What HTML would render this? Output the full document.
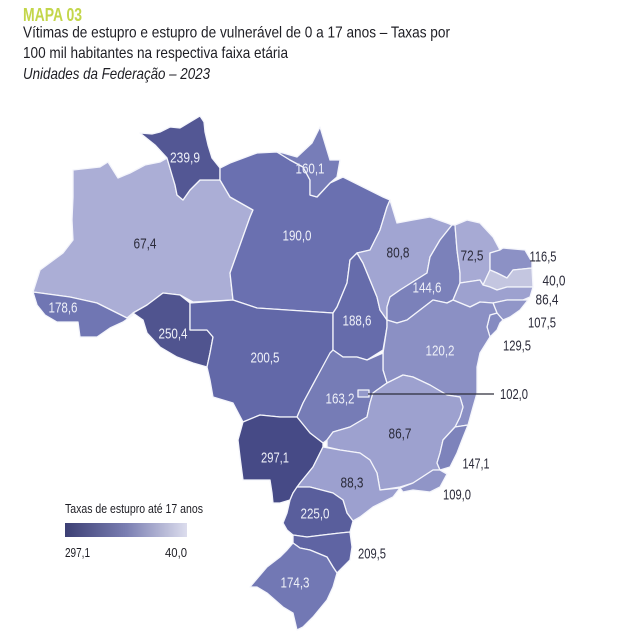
<!DOCTYPE html>
<html>
<head>
<meta charset="utf-8">
<style>
html,body{margin:0;padding:0;background:#fff;}
svg{display:block;}
text{font-family:"Liberation Sans",sans-serif;}
.w{fill:#eef0f8;font-size:15px;}
.d{fill:#2b2b3a;font-size:15px;}
.st{stroke:#f4f5fb;stroke-width:1.3;stroke-linejoin:round;}
</style>
</head>
<body>
<svg width="640" height="635" viewBox="0 0 640 635" xmlns="http://www.w3.org/2000/svg">
<defs>
<linearGradient id="lg" x1="0" y1="0" x2="1" y2="0">
<stop offset="0" stop-color="#3c3f74"/>
<stop offset="0.5" stop-color="#7a7eb2"/>
<stop offset="1" stop-color="#dcdded"/>
</linearGradient>
</defs>
<rect width="640" height="635" fill="#fff"/>

<!-- Title -->
<text x="23" y="21" font-size="18" font-weight="bold" fill="#c3d64a" textLength="59" lengthAdjust="spacingAndGlyphs">MAPA 03</text>
<text x="23" y="37.5" font-size="16" fill="#1e1e24" textLength="427" lengthAdjust="spacingAndGlyphs">Vítimas de estupro e estupro de vulnerável de 0 a 17 anos – Taxas por</text>
<text x="23" y="58" font-size="16" fill="#1e1e24" textLength="265" lengthAdjust="spacingAndGlyphs">100 mil habitantes na respectiva faixa etária</text>
<text x="23" y="79" font-size="16" font-style="italic" fill="#1e1e24" textLength="187" lengthAdjust="spacingAndGlyphs">Unidades da Federação – 2023</text>

<g class="st">
<!-- AM -->
<polygon fill="#abaed6" points="73,170 100,167 108,162 118,178 130,173 145,165 160,162 167,158 172,175 175,185 177,195 183,200 190,190 200,180 220,180 230,197 253,210 250,217 240,245 230,273 233,300 193,302 180,295 163,293 147,305 133,313 127,318 97,303 70,297 33,292 40,270 63,253 73,240 72,220 73,197"/>
<!-- RR -->
<polygon fill="#535794" points="140,133 152,134 160,132 170,127 180,128 190,122 200,116 204,122 205,132 208,145 212,158 220,168 220,180 200,180 190,190 183,200 177,195 175,185 172,175 167,158 155,145"/>
<!-- AC -->
<polygon fill="#7076b3" points="33,292 70,297 97,303 127,318 133,315 123,322 110,328 97,337 80,337 78,322 57,322 45,315 37,305"/>
<!-- RO -->
<polygon fill="#50548f" points="133,313 147,305 163,293 180,295 190,303 190,330 207,330 213,337 210,353 207,367 193,363 177,357 160,347 147,333 143,320"/>
<!-- PA -->
<polygon fill="#6a70b0" points="220,168 230,163 257,153 277,152 290,160 303,167 310,180 310,195 317,197 330,183 343,177 363,187 383,197 390,200 387,207 380,230 370,250 357,253 350,260 347,283 337,307 333,313 257,308 233,300 230,273 240,245 250,217 253,210 230,197 220,180"/>
<!-- AP -->
<polygon fill="#777db8" points="277,152 283,153 297,157 312,143 320,127 323,137 330,160 340,160 337,177 330,183 317,197 310,195 310,180 303,167 290,160"/>
<!-- MT -->
<polygon fill="#6268a8" points="190,303 233,300 257,308 333,313 333,353 317,377 303,403 297,417 280,417 260,415 243,422 233,403 213,397 210,380 207,367 210,353 213,337 207,330 190,330"/>
<!-- TO -->
<polygon fill="#666cab" points="357,253 363,263 370,280 377,297 380,310 387,320 387,327 383,350 367,360 357,357 343,357 333,350 333,313 337,307 347,283 350,260"/>
<!-- MA -->
<polygon fill="#a1a5d2" points="390,200 397,223 413,220 430,217 447,223 452,225 440,240 430,257 427,273 400,290 390,297 387,307 387,320 380,310 377,297 370,280 363,263 357,253 370,250 380,230 387,207"/>
<!-- PI -->
<polygon fill="#7b81ba" points="452,225 455,225 457,250 460,273 460,283 453,300 447,303 433,300 420,310 407,320 397,323 387,320 387,307 390,297 400,290 427,273 430,257 440,240"/>
<!-- CE -->
<polygon fill="#a7aad4" points="455,225 467,220 480,223 493,237 500,250 490,253 490,270 483,285 480,280 460,283 460,273 457,250"/>
<!-- RN -->
<polygon fill="#8c91c5" points="490,253 500,250 503,248 525,250 532,262 532,268 513,270 507,278 497,273 490,270"/>
<!-- PB -->
<polygon fill="#c4c6e0" points="483,285 490,270 497,273 507,278 513,270 532,268 533,287 517,287 507,287 497,290 490,287"/>
<!-- PE -->
<polygon fill="#9da1cf" points="460,283 480,280 483,285 490,287 497,290 507,287 533,287 530,297 523,300 507,300 493,303 480,302 470,307 453,300"/>
<!-- AL -->
<polygon fill="#9196c8" points="493,303 507,300 523,300 528,300 520,310 510,317 503,320 497,313"/>
<!-- SE -->
<polygon fill="#858bc1" points="490,315 497,313 503,320 500,323 497,330 490,337 487,327"/>
<!-- BA -->
<polygon fill="#8b90c4" points="387,320 397,323 407,320 420,310 433,300 447,303 453,300 470,307 480,302 493,303 497,313 490,315 487,327 490,337 480,353 477,367 477,380 477,393 473,407 468,425 455,427 460,417 463,407 460,397 447,395 430,385 413,377 403,375 387,383 383,370 383,353 387,327"/>
<!-- GO -->
<polygon fill="#767cb6" points="333,350 343,357 357,357 367,360 383,353 383,370 387,383 377,390 373,393 370,403 367,417 350,427 333,432 327,440 323,443 310,433 297,417 303,403 317,377 330,353"/>
<!-- DF -->
<rect x="358" y="390" width="11" height="7" fill="#9499ca"/>
<!-- MG -->
<polygon fill="#9da1cf" points="327,440 333,432 350,427 367,417 370,403 373,393 377,390 387,383 403,375 413,377 430,385 447,395 460,397 463,407 460,417 455,427 443,440 440,453 437,463 440,470 433,470 413,483 400,487 380,490 377,473 370,460 360,453 340,450 327,447"/>
<!-- ES -->
<polygon fill="#7d83bb" points="455,427 468,425 462,440 457,453 450,467 440,470 437,463 440,453 443,440"/>
<!-- RJ -->
<polygon fill="#9095c7" points="433,470 440,470 447,474 440,487 430,492 413,490 403,492 400,488 413,483"/>
<!-- MS -->
<polygon fill="#464a86" points="243,422 260,415 280,417 297,417 310,433 323,443 323,447 313,467 300,483 293,493 290,500 280,503 273,503 272,493 270,480 243,480 240,457 238,440"/>
<!-- SP -->
<polygon fill="#9ca0cf" points="323,447 340,450 360,453 370,460 377,473 380,490 400,488 393,497 373,507 360,517 353,521 347,513 343,500 333,493 310,487 297,487 300,483 313,467"/>
<!-- PR -->
<polygon fill="#595e9c" points="293,493 297,487 310,487 333,493 343,500 347,513 353,521 350,532 340,533 323,535 307,537 293,535 287,530 283,523 287,513 290,500"/>
<!-- SC -->
<polygon fill="#5f64a3" points="293,535 307,537 323,535 340,533 350,532 352,547 350,560 343,567 337,573 333,567 327,557 310,550 300,548 293,543"/>
<!-- RS -->
<polygon fill="#7278b4" points="293,543 300,548 310,550 327,557 333,567 337,573 333,587 327,600 313,617 303,627 297,630 293,613 283,607 267,593 257,587 250,587 267,567 280,557 287,550"/>
</g>

<!-- DF leader line -->
<line x1="368" y1="394" x2="494" y2="394" stroke="#2d2d3a" stroke-width="1.2"/>

<!-- Labels -->
<g text-anchor="middle" lengthAdjust="spacingAndGlyphs">
<text class="w" x="185" y="162.5" textLength="30" lengthAdjust="spacingAndGlyphs">239,9</text>
<text class="w" x="310" y="173.5" textLength="29" lengthAdjust="spacingAndGlyphs">160,1</text>
<text class="d" x="145" y="248.5" textLength="23" lengthAdjust="spacingAndGlyphs">67,4</text>
<text class="w" x="297" y="240.5" textLength="29" lengthAdjust="spacingAndGlyphs">190,0</text>
<text class="w" x="63" y="312.5" textLength="29" lengthAdjust="spacingAndGlyphs">178,6</text>
<text class="w" x="173" y="338.5" textLength="29" lengthAdjust="spacingAndGlyphs">250,4</text>
<text class="w" x="265" y="362.5" textLength="29" lengthAdjust="spacingAndGlyphs">200,5</text>
<text class="d" x="398" y="257.5" textLength="23" lengthAdjust="spacingAndGlyphs">80,8</text>
<text class="d" x="472" y="260.5" textLength="23" lengthAdjust="spacingAndGlyphs">72,5</text>
<text class="w" x="427" y="292.5" textLength="29" lengthAdjust="spacingAndGlyphs">144,6</text>
<text class="w" x="357" y="325.5" textLength="29" lengthAdjust="spacingAndGlyphs">188,6</text>
<text class="w" x="440" y="355.5" textLength="29" lengthAdjust="spacingAndGlyphs">120,2</text>
<text class="w" x="340" y="403.5" textLength="29" lengthAdjust="spacingAndGlyphs">163,2</text>
<text class="d" x="400" y="438.5" textLength="23" lengthAdjust="spacingAndGlyphs">86,7</text>
<text class="w" x="275" y="462.5" textLength="28" lengthAdjust="spacingAndGlyphs">297,1</text>
<text class="d" x="352" y="487.5" textLength="23" lengthAdjust="spacingAndGlyphs">88,3</text>
<text class="w" x="315" y="518.5" textLength="29" lengthAdjust="spacingAndGlyphs">225,0</text>
<text class="w" x="295" y="587.5" textLength="29" lengthAdjust="spacingAndGlyphs">174,3</text>
<text class="d" x="372" y="558.5" textLength="28" lengthAdjust="spacingAndGlyphs">209,5</text>
<text class="d" x="476" y="468.5" textLength="27" lengthAdjust="spacingAndGlyphs">147,1</text>
<text class="d" x="457" y="499.5" textLength="28" lengthAdjust="spacingAndGlyphs">109,0</text>
<text class="d" x="514" y="399" textLength="28" lengthAdjust="spacingAndGlyphs">102,0</text>
<text class="d" x="543" y="261.5" textLength="27" lengthAdjust="spacingAndGlyphs">116,5</text>
<text class="d" x="554" y="285.5" textLength="23" lengthAdjust="spacingAndGlyphs">40,0</text>
<text class="d" x="547" y="304.5" textLength="23" lengthAdjust="spacingAndGlyphs">86,4</text>
<text class="d" x="542" y="327.5" textLength="28" lengthAdjust="spacingAndGlyphs">107,5</text>
<text class="d" x="517" y="350.5" textLength="28" lengthAdjust="spacingAndGlyphs">129,5</text>
</g>

<!-- Legend -->
<text x="65" y="513" font-size="12.5" fill="#1e1e24" textLength="138" lengthAdjust="spacingAndGlyphs">Taxas de estupro até 17 anos</text>
<rect x="65" y="523" width="122" height="14" fill="url(#lg)"/>
<text x="65" y="557" font-size="12.5" fill="#1e1e24" textLength="25" lengthAdjust="spacingAndGlyphs">297,1</text>
<text x="187" y="557" font-size="12.5" fill="#1e1e24" text-anchor="end" textLength="22" lengthAdjust="spacingAndGlyphs">40,0</text>
</svg>
</body>
</html>
